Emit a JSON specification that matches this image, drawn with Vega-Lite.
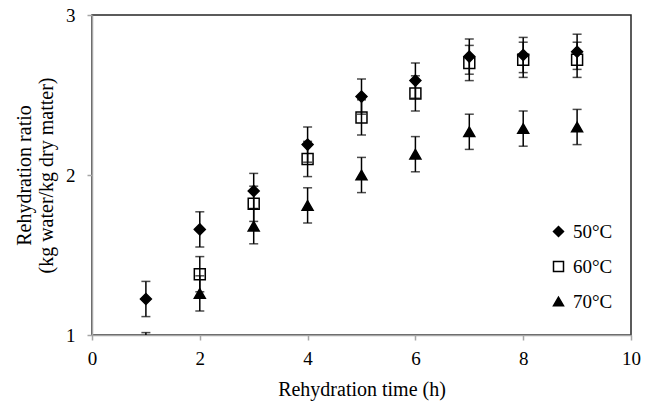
{
  "$schema": "https://vega.github.io/schema/vega-lite/v6.json",
  "width": 539,
  "height": 320,
  "autosize": {"type": "none"},
  "padding": {"left": 92, "top": 15, "right": 23, "bottom": 66},
  "background": "white",
  "config": {
    "font": "Liberation Serif",
    "view": {"stroke": "#262626", "strokeWidth": 1.5},
    "axis": {
      "domainColor": "#a6a6a6",
      "domainWidth": 1.5,
      "tickColor": "#a6a6a6",
      "tickWidth": 1.5,
      "tickSize": 5,
      "grid": false,
      "labelFont": "Liberation Serif",
      "labelFontSize": 19,
      "labelColor": "black",
      "titleFont": "Liberation Serif",
      "titleFontSize": 20,
      "titleFontWeight": "normal",
      "titleColor": "black",
      "zindex": 1
    },
    "legend": {
      "labelFont": "Liberation Serif",
      "labelFontSize": 19,
      "labelColor": "black"
    }
  },
  "data": {
    "values": [
      {"time": 1, "temp": "50°C", "ratio": 1.225, "lo": 1.115, "hi": 1.335},
      {"time": 2, "temp": "50°C", "ratio": 1.66, "lo": 1.55, "hi": 1.77},
      {"time": 3, "temp": "50°C", "ratio": 1.9, "lo": 1.79, "hi": 2.01},
      {"time": 4, "temp": "50°C", "ratio": 2.19, "lo": 2.08, "hi": 2.3},
      {"time": 5, "temp": "50°C", "ratio": 2.49, "lo": 2.38, "hi": 2.6},
      {"time": 6, "temp": "50°C", "ratio": 2.59, "lo": 2.48, "hi": 2.7},
      {"time": 7, "temp": "50°C", "ratio": 2.74, "lo": 2.63, "hi": 2.85},
      {"time": 8, "temp": "50°C", "ratio": 2.75, "lo": 2.64, "hi": 2.86},
      {"time": 9, "temp": "50°C", "ratio": 2.77, "lo": 2.66, "hi": 2.88},
      {"time": 1, "temp": "60°C", "ratio": 0.905, "lo": 0.795, "hi": 1.015},
      {"time": 2, "temp": "60°C", "ratio": 1.38, "lo": 1.27, "hi": 1.49},
      {"time": 3, "temp": "60°C", "ratio": 1.82, "lo": 1.71, "hi": 1.93},
      {"time": 4, "temp": "60°C", "ratio": 2.1, "lo": 1.99, "hi": 2.21},
      {"time": 5, "temp": "60°C", "ratio": 2.36, "lo": 2.25, "hi": 2.47},
      {"time": 6, "temp": "60°C", "ratio": 2.51, "lo": 2.4, "hi": 2.62},
      {"time": 7, "temp": "60°C", "ratio": 2.7, "lo": 2.59, "hi": 2.81},
      {"time": 8, "temp": "60°C", "ratio": 2.72, "lo": 2.61, "hi": 2.83},
      {"time": 9, "temp": "60°C", "ratio": 2.72, "lo": 2.61, "hi": 2.83},
      {"time": 2, "temp": "70°C", "ratio": 1.26, "lo": 1.15, "hi": 1.37},
      {"time": 3, "temp": "70°C", "ratio": 1.68, "lo": 1.57, "hi": 1.79},
      {"time": 4, "temp": "70°C", "ratio": 1.81, "lo": 1.7, "hi": 1.92},
      {"time": 5, "temp": "70°C", "ratio": 2.0, "lo": 1.89, "hi": 2.11},
      {"time": 6, "temp": "70°C", "ratio": 2.13, "lo": 2.02, "hi": 2.24},
      {"time": 7, "temp": "70°C", "ratio": 2.27, "lo": 2.16, "hi": 2.38},
      {"time": 8, "temp": "70°C", "ratio": 2.29, "lo": 2.18, "hi": 2.4},
      {"time": 9, "temp": "70°C", "ratio": 2.3, "lo": 2.19, "hi": 2.41}
    ]
  },
  "encoding": {
    "x": {
      "field": "time",
      "type": "quantitative",
      "scale": {"domain": [0, 10]},
      "axis": {
        "values": [0, 2, 4, 6, 8, 10],
        "title": "Rehydration time (h)",
        "labelFontSize": 19,
        "labelPadding": 9,
        "labelFlush": false,
        "labelOverlap": false,
        "titlePadding": 11
      }
    }
  },
  "layer": [
    {
      "mark": {"type": "rule", "color": "black", "strokeWidth": 1.5, "clip": true},
      "encoding": {
        "y": {
          "field": "lo",
          "type": "quantitative",
          "scale": {"domain": [1, 3]},
          "axis": {
            "values": [1, 2, 3],
            "format": ".0f",
            "labelFontSize": 19,
            "labelOverlap": false,
            "title": ["Rehydration ratio", "(kg water/kg dry matter)"],
            "titleLineHeight": 22,
            "labelPadding": 12,
            "titlePadding": 9
          }
        },
        "y2": {"field": "hi"}
      }
    },
    {
      "mark": {"type": "tick", "orient": "horizontal", "color": "black", "size": 9, "thickness": 1.5, "clip": true},
      "encoding": {"y": {"field": "lo", "type": "quantitative"}}
    },
    {
      "mark": {"type": "tick", "orient": "horizontal", "color": "black", "size": 9, "thickness": 1.5, "clip": true},
      "encoding": {"y": {"field": "hi", "type": "quantitative"}}
    },
    {
      "mark": {"type": "point", "filled": false, "strokeWidth": 1.5, "size": 120, "opacity": 1, "clip": true},
      "encoding": {
        "y": {"field": "ratio", "type": "quantitative"},
        "shape": {
          "field": "temp",
          "type": "nominal",
          "scale": {"domain": ["50°C", "60°C", "70°C"], "range": ["diamond", "square", "triangle-up"]},
          "legend": {
            "title": null,
            "orient": "none",
            "legendX": 457,
            "legendY": 207,
            "symbolSize": 100,
            "symbolStrokeWidth": 1.5,
            "rowPadding": 15,
            "labelOffset": 5
          }
        },
        "fill": {
          "field": "temp",
          "type": "nominal",
          "scale": {"domain": ["50°C", "60°C", "70°C"], "range": ["black", "transparent", "black"]},
          "legend": {
            "title": null,
            "orient": "none",
            "legendX": 457,
            "legendY": 207,
            "symbolSize": 100,
            "symbolStrokeWidth": 1.5,
            "rowPadding": 15,
            "labelOffset": 5
          }
        },
        "stroke": {
          "field": "temp",
          "type": "nominal",
          "scale": {"domain": ["50°C", "60°C", "70°C"], "range": ["black", "black", "black"]},
          "legend": {
            "title": null,
            "orient": "none",
            "legendX": 457,
            "legendY": 207,
            "symbolSize": 100,
            "symbolStrokeWidth": 1.5,
            "rowPadding": 15,
            "labelOffset": 5
          }
        }
      }
    }
  ]
}
